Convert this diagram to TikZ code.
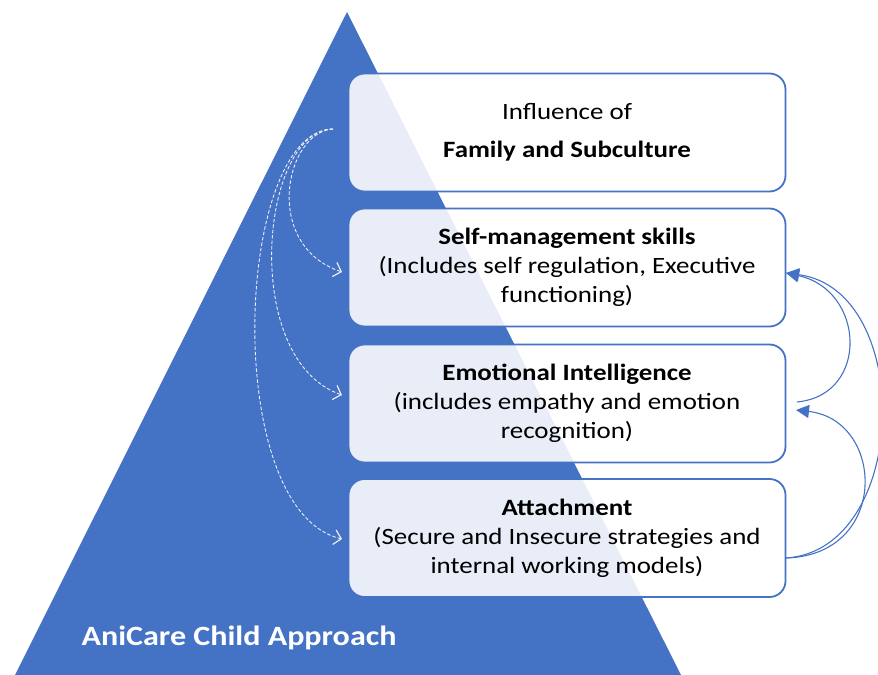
\documentclass[tikz,border=0pt]{standalone}
\usepackage{fontspec}
\setmainfont{Carlito}[FakeStretch=1.15]
\usetikzlibrary{arrows.meta}
\definecolor{oblue}{HTML}{4472C4}
\begin{document}
\begin{tikzpicture}[x=1bp,y=-1bp,
  box/.style={draw=oblue, line width=1.8bp, rounded corners=16bp, fill=white, fill opacity=0.88, text opacity=1,
    minimum width=437bp, minimum height=118bp, align=center, font=\fontsize{23.5}{29}\selectfont},
  dasharrow/.style={draw=white!88!oblue, line width=0.9bp, dash pattern=on 3.5bp off 2bp,
    -{Straight Barb[length=7bp,width=15bp,line width=1.2bp]}},
  bluearrow/.style={draw=oblue, line width=1.1bp, -{Triangle[length=13bp,width=13bp]}}]
\useasboundingbox (0,0) rectangle (878,675);
\fill[oblue] (347,12) -- (681,675) -- (15,675) -- cycle;

\node[box] (b1) at (567,132.5) {Influence of\\[9bp]\textbf{Family and Subculture}};
\node[box] (b2) at (567,267.5) {\textbf{Self-management skills}\\(Includes self regulation, Executive\\functioning)};
\node[box] (b3) at (567,403.5) {\textbf{Emotional Intelligence}\\(includes empathy and emotion\\recognition)};
\node[box] (b4) at (567,538) {\textbf{Attachment}\\(Secure and Insecure strategies and\\internal working models)};

\node[text=white, font=\bfseries\fontsize{28}{34}\selectfont] (title) at (239,638) {AniCare Child Approach};

% dashed influence arrows
\coordinate (ds) at (333,129);
\coordinate (d2) at (342,272);
\coordinate (d3) at (342,395);
\coordinate (d4) at (342,539);
\draw[dasharrow] (ds) .. controls (285,132) and (262,245) .. (d2);
\draw[dasharrow] (ds) .. controls (260,130) and (240,360) .. (d3);
\draw[dasharrow] (ds) .. controls (235,130) and (220,510) .. (d4);

% blue feedback arrows
\coordinate (s3) at (797,402);
\coordinate (t2) at (786,273);
\coordinate (s4) at (786,558);
\coordinate (t3) at (796,410);
\draw[bluearrow] (s3) .. controls (870,395) and (865,290) .. (t2);
\draw[bluearrow] (s4) .. controls (910,550) and (915,290) .. (t2);
\draw[bluearrow] (s4) .. controls (890,555) and (885,420) .. (t3);
\end{tikzpicture}
\end{document}
